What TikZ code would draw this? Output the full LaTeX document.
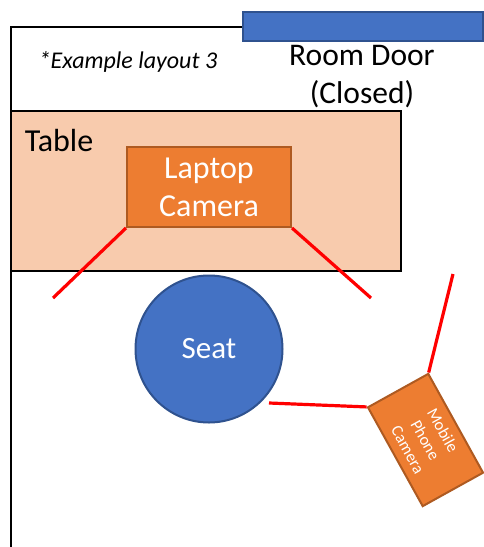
\documentclass[tikz,border=0pt]{standalone}
\usepackage{fontspec}
\setmainfont{Carlito}
\usetikzlibrary{positioning}
\definecolor{doorblue}{RGB}{68,114,196}
\definecolor{doorline}{RGB}{47,82,143}
\definecolor{camorange}{RGB}{237,125,49}
\definecolor{camline}{RGB}{174,90,33}
\definecolor{tablefill}{RGB}{248,203,173}
\tikzset{%
  every camera/.style={
    draw=camline,
    fill=camorange,
    line width=2pt,
    text=white,
    align=center,
    inner sep=0pt
  },
  view line/.style={
    red,
    line width=3.2pt
  },
}

\begin{document}
\begin{tikzpicture}[x=1pt,y=-1pt]
\useasboundingbox (0,0) rectangle (484,547);
\fill[white] (0,0) rectangle (484,547);
% room walls
\coordinate (wall_a) at (11,547);
\coordinate (wall_b) at (11,27);
\coordinate (wall_c) at (484,27);
\draw[line width=2.8pt] (wall_a) -- (wall_b) -- (wall_c);
\node[draw=doorline, fill=doorblue, line width=1.5pt, minimum width=240pt, minimum height=29pt, inner sep=0pt] (door) at (363,26.5) {};
\node[font=\fontsize{31.5}{38}\selectfont, align=center, inner sep=0pt] (door_label) at (362,77) {Room Door\\(Closed)};
\node[font=\itshape\fontsize{24}{28}\selectfont, inner sep=0pt] (layout_label) at (128,62) {*Example layout 3};
% table
\node[draw=black, fill=tablefill, line width=2.8pt, minimum width=390pt, minimum height=160pt, inner sep=0pt] (table) at (206,191) {};
\node[font=\fontsize{32}{38}\selectfont, inner sep=0pt] (table_label) at (59,141) {Table};
% cameras
\node[every camera, minimum width=164pt, minimum height=80pt, font=\fontsize{32}{38}\selectfont] (laptop) at (209,187) {Laptop\\Camera};
\node[every camera, rotate=-61, minimum width=113pt, minimum height=69pt, font=\fontsize{16.5}{20}\selectfont] (phone) at (425.5,440) {Mobile\\Phone\\Camera};
% seat
\node[circle, draw=doorline, fill=doorblue, line width=2pt, minimum size=147pt, inner sep=0pt, text=white, font=\fontsize{31}{38}\selectfont] (seat) at (209,349) {Seat};
% fields of view
\coordinate (laptop_l) at (53,298);
\coordinate (laptop_r) at (371,298);
\coordinate (phone_a) at (269,403);
\coordinate (phone_b) at (453,274);
\draw[view line] (laptop.south west) -- (laptop_l);
\draw[view line] (laptop.south east) -- (laptop_r);
\draw[view line] (phone.south west) -- (phone_a);
\draw[view line] (phone.north west) -- (phone_b);
\end{tikzpicture}
\end{document}
